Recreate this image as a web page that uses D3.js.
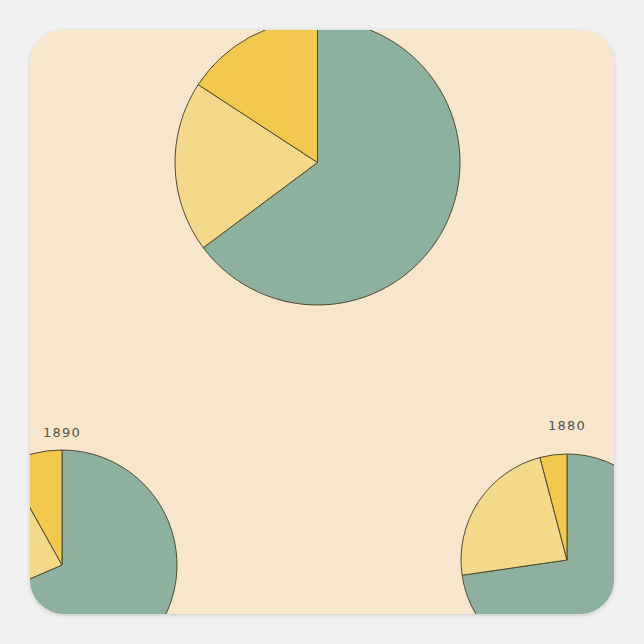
<!DOCTYPE html>
<html><head><meta charset="utf-8">
<script src="https://cdn.jsdelivr.net/npm/d3@7"></script>
<style>html,body{margin:0;padding:0;background:#f0f0f0;}svg{display:block;}</style>
</head><body>
<script>
// Data (shares, percent) — slices clockwise from 12 o'clock
const categories = ["Group A", "Group B", "Group C"];
const years = ["1900", "1890", "1880"];
const valuesTop = [64.8, 19.4, 15.8];
const values1890 = [68.5, 23.4, 8.1];
const values1880 = [72.7, 23.2, 4.1];
const labels = ["", "1890", "1880"];

const W = 644, H = 644;
const colors = d3.scaleOrdinal().domain(categories).range(["#8db09f", "#f4d98a", "#f2c94c"]);

const svg = d3.select("body").append("svg").attr("width", W).attr("height", H);
const defs = svg.append("defs");
const f = defs.append("filter").attr("id", "sh").attr("x", "-10%").attr("y", "-10%").attr("width", "120%").attr("height", "120%");
f.append("feGaussianBlur").attr("in", "SourceAlpha").attr("stdDeviation", 2);
f.append("feOffset").attr("dx", 0).attr("dy", 1).attr("result", "b");
f.append("feComponentTransfer").append("feFuncA").attr("type", "linear").attr("slope", 0.18);
const m = f.append("feMerge"); m.append("feMergeNode"); m.append("feMergeNode").attr("in", "SourceGraphic");

defs.append("clipPath").attr("id", "card").append("rect")
  .attr("x", 30).attr("y", 30).attr("width", 584).attr("height", 584).attr("rx", 34);

svg.append("rect").attr("x", 30).attr("y", 30).attr("width", 584).attr("height", 584)
  .attr("rx", 34).attr("fill", "#f8e6cc").attr("filter", "url(#sh)");

const g = svg.append("g").attr("clip-path", "url(#card)");

const pies = [
  {vals: valuesTop, cx: 317.5, cy: 162.5, r: 142.5, label: labels[0], ly: 0},
  {vals: values1890, cx: 62, cy: 565, r: 115, label: labels[1], ly: 437},
  {vals: values1880, cx: 567, cy: 560, r: 106, label: labels[2], ly: 430}
];

const pie = d3.pie().sort(null).value(d => d.v);

pies.forEach(p => {
  const arc = d3.arc().innerRadius(0).outerRadius(p.r);
  const pg = g.append("g").attr("transform", `translate(${p.cx},${p.cy})`);
  const data = pie(p.vals.map((v, i) => ({v, c: categories[i]})));
  pg.selectAll("path").data(data).join("path")
    .attr("d", arc)
    .attr("fill", d => colors(d.data.c))
    .attr("stroke", "#4d4a32")
    .attr("stroke-width", 1)
    .attr("stroke-linejoin", "round");
  if (p.label) {
    g.append("text").attr("x", p.cx).attr("y", p.ly)
      .attr("text-anchor", "middle")
      .attr("font-family", "DejaVu Sans, sans-serif")
      .attr("font-size", 13).attr("letter-spacing", 1.2)
      .attr("fill", "#57534c")
      .text(p.label);
  }
});
</script>
</body></html>
